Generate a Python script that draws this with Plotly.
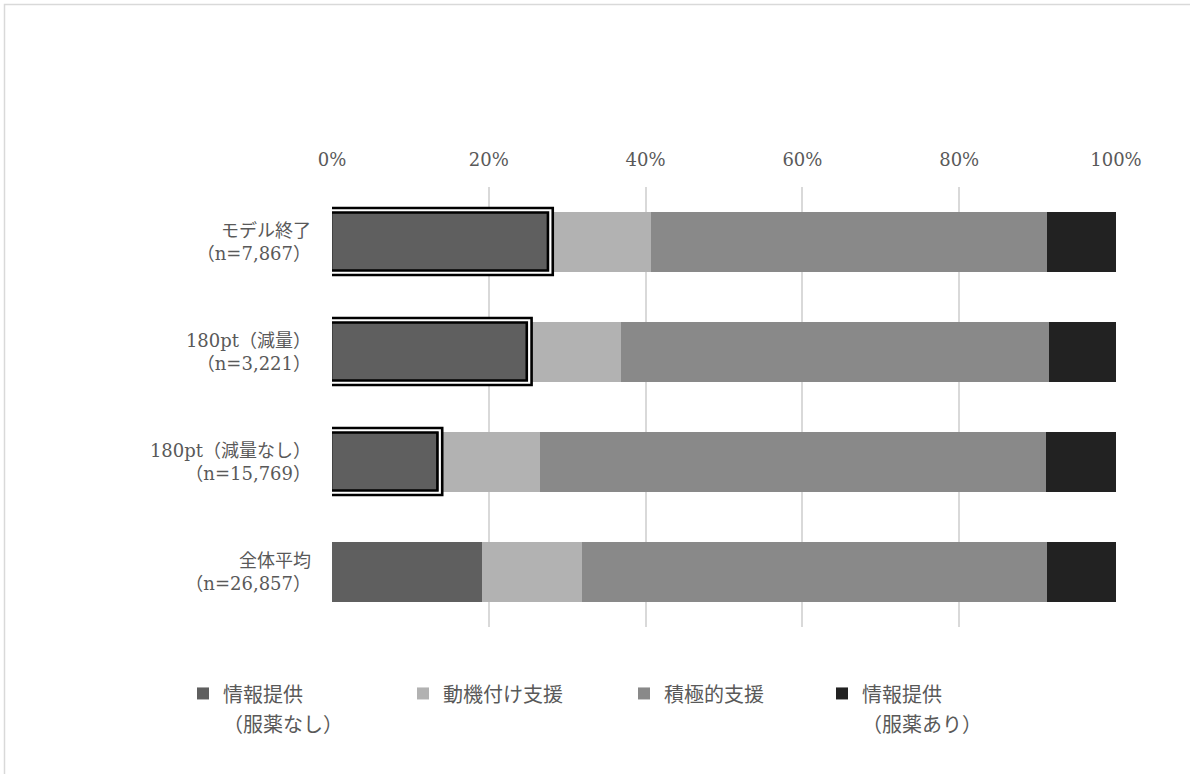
import plotly.graph_objects as go

# ---- data ----
categories = [
    "モデル終了<br>（n=7,867）",
    "180pt（減量）<br>（n=3,221）",
    "180pt（減量なし）<br>（n=15,769）",
    "全体平均<br>（n=26,857）",
]
series_names = [["情報提供", "（服薬なし）"], ["動機付け支援"], ["積極的支援"], ["情報提供", "（服薬あり）"]]
info_no_med = [27.8, 25.1, 13.7, 19.1]
motivational = [12.85, 11.7, 12.8, 12.75]
active = [50.5, 54.7, 64.6, 59.3]
info_med = [8.85, 8.5, 8.9, 8.85]
highlighted = [True, True, True, False]
x_tick_values = [0, 20, 40, 60, 80, 100]
x_tick_labels = ["0%", "20%", "40%", "60%", "80%", "100%"]

# ---- styling ----
W, H = 1190, 774
ML, MR, MT, MB = 332, 74, 187, 147
colors = ["#5f5f5f", "#b2b2b2", "#898989", "#222222"]
txt = "#595959"
latin_font = "DejaVu Serif, Noto Sans CJK JP"
cjk_font = "Noto Sans CJK JP"
plot_w = W - ML - MR
plot_h = H - MT - MB
px_per_x = plot_w / 100.0
px_per_cat = plot_h / len(categories)
bargap = 0.4545
half_bar = (1 - bargap) / 2


def legend_label(lines):
    return "<br>".join("<span style='font-size:20px'>%s</span>" % s for s in lines)


fig = go.Figure()
series = [info_no_med, motivational, active, info_med]
legend_ids = ["legend", "legend2", "legend3", "legend4"]
for name, vals, col, lg in zip(series_names, series, colors, legend_ids):
    fig.add_trace(go.Bar(
        y=categories, x=vals, name=legend_label(name), orientation="h",
        marker=dict(color=col, line=dict(width=0)),
        legend=lg, hoverinfo="skip",
    ))

shapes = []
def dx(p):
    return p / px_per_x
def dy(p):
    return p / px_per_cat

for i, (v, hl) in enumerate(zip(info_no_med, highlighted)):
    if not hl:
        continue
    top = i - half_bar
    bot = i + half_bar
    # white gap
    shapes.append(dict(type="rect", xref="x", yref="y", layer="above",
                       x0=dx(-3.8), x1=v + dx(0.8), y0=top + dy(-1.8), y1=bot + dy(0.8),
                       line=dict(color="white", width=3.5), fillcolor="rgba(0,0,0,0)"))
    # inner black
    shapes.append(dict(type="rect", xref="x", yref="y", layer="above",
                       x0=dx(-1.0), x1=v + dx(-2.0), y0=top + dy(0.5), y1=bot + dy(-1.5),
                       line=dict(color="black", width=2.6), fillcolor="rgba(0,0,0,0)"))
    # outer black
    shapes.append(dict(type="rect", xref="x", yref="y", layer="above",
                       x0=dx(-6.6), x1=v + dx(2.8), y0=top + dy(-4.0), y1=bot + dy(3.0),
                       line=dict(color="black", width=2.6), fillcolor="rgba(0,0,0,0)"))

# outer chart border
def paper_x(px):
    return (px - ML) / plot_w
def paper_y(py):
    return (H - MB - py) / plot_h
shapes.append(dict(type="rect", xref="paper", yref="paper", layer="below",
                   x0=paper_x(4.5), x1=paper_x(W + 20), y0=paper_y(H + 20), y1=paper_y(4.5),
                   line=dict(color="#d9d9d9", width=1.5), fillcolor="rgba(0,0,0,0)"))

legend_text_px = [223, 443, 664, 862]
leg_common = dict(orientation="v", font=dict(family=cjk_font, size=23, color=txt),
                  bgcolor="rgba(0,0,0,0)", valign="top", yanchor="top", xanchor="left",
                  itemclick=False, itemdoubleclick=False, tracegroupgap=0)
legends = {}
for lg, tx in zip(legend_ids, legend_text_px):
    legends[lg] = dict(x=paper_x(tx - 40), y=paper_y(672), **leg_common)

fig.update_layout(
    width=W, height=H, autosize=False,
    margin=dict(l=ML, r=MR, t=MT, b=MB, pad=0),
    paper_bgcolor="white", plot_bgcolor="white",
    barmode="stack", bargap=bargap,
    showlegend=True,
    shapes=shapes,
    xaxis=dict(range=[0, 100], side="top", tickvals=x_tick_values, ticktext=x_tick_labels,
               showgrid=True, gridcolor="#d9d9d9", gridwidth=1.5, zeroline=False,
               showline=False, ticks="", fixedrange=True,
               tickfont=dict(family=latin_font, size=18, color=txt), ticklabelstandoff=16),
    yaxis=dict(autorange="reversed", showgrid=False, zeroline=False, showline=False,
               ticks="", fixedrange=True, ticklabelstandoff=20,
               tickfont=dict(family=latin_font, size=18, color=txt)),
    **legends,
)

fig.write_html(
    "out.html",
    config={"displayModeBar": False},
    post_script="document.body.style.margin='0';document.body.style.overflow='hidden';",
)
